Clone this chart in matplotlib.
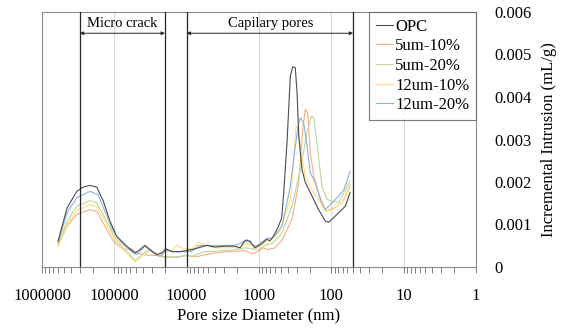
import matplotlib
matplotlib.use("Agg")
import matplotlib.pyplot as plt

plt.rcParams['font.family'] = ['Liberation Serif', 'DejaVu Serif']

labels = ["OPC", "5um-10%", "5um-20%", "12um-10%", "12um-20%"]
colors = ["#4d4d4d", "#f4b183", "#b9d7a0", "#ffe07a", "#8fb0dc"]

opc_d = [600000, 450000, 330000, 270000, 217000, 175000, 142000, 115000, 92700, 67500,
         51800, 44200, 37700, 32100, 25900, 22100, 19300, 16100, 12400, 10000,
         8520, 6900, 5280, 4060, 2950, 2150, 1830, 1560, 1330, 1140,
         918, 783, 705, 634, 541, 486, 455, 410, 369, 342,
         315, 298, 282, 254, 229, 185, 150, 121, 109, 88, 64, 55]
opc_v = [0.00061, 0.00139, 0.00178, 0.00188, 0.00192, 0.00188, 0.00155, 0.00108, 0.00072, 0.00049,
         0.00033, 0.00041, 0.00051, 0.00041, 0.00029, 0.00033, 0.00043, 0.00036, 0.00036, 0.00039,
         0.00041, 0.00045, 0.00051, 0.00047, 0.00049, 0.00049, 0.00045, 0.00062, 0.00061, 0.00045,
         0.00055, 0.00065, 0.00062, 0.00072, 0.00095, 0.00115, 0.00175, 0.00293, 0.00449, 0.00471,
         0.00469, 0.00410, 0.00308, 0.00229, 0.00199, 0.00167, 0.00135, 0.00108, 0.00105, 0.00120, 0.00143, 0.00175]

s510_d = [600000, 450000, 330000, 217000, 175000, 135000, 103000, 75200, 57500, 49100,
          35700, 25900, 19900, 13700, 10000, 8520, 6900, 5580, 4060, 2950,
          2150, 1560, 1260, 1020, 873, 744, 601, 486, 350, 282,
          246, 229, 212, 195, 175, 150, 121, 93, 71, 55]
s510_v = [0.00050, 0.00096, 0.00124, 0.00135, 0.00131, 0.00096, 0.00061, 0.00041, 0.00043, 0.00033,
          0.00028, 0.00027, 0.00025, 0.00023, 0.00027, 0.00025, 0.00025, 0.00029, 0.00033, 0.00036,
          0.00037, 0.00039, 0.00031, 0.00037, 0.00045, 0.00041, 0.00045, 0.00062, 0.00112, 0.00198,
          0.00331, 0.00371, 0.00363, 0.00269, 0.00214, 0.00175, 0.00131, 0.00139, 0.00151, 0.00190]

s520_d = [600000, 450000, 330000, 217000, 175000, 135000, 103000, 79100, 60700, 51800,
          41900, 33900, 25900, 21000, 15300, 10000, 8520, 6900, 5580, 4060,
          2950, 2150, 1560, 1260, 1020, 827, 667, 541, 481, 350,
          268, 217, 189, 175, 158, 135, 115, 98, 79, 55]
s520_v = [0.00053, 0.00108, 0.00143, 0.00156, 0.00151, 0.00116, 0.00076, 0.00049, 0.00029, 0.00015,
          0.00029, 0.00041, 0.00029, 0.00023, 0.00023, 0.00027, 0.00025, 0.00031, 0.00036, 0.00037,
          0.00039, 0.00041, 0.00045, 0.00043, 0.00041, 0.00051, 0.00055, 0.00069, 0.00080, 0.00143,
          0.00229, 0.00316, 0.00355, 0.00351, 0.00292, 0.00190, 0.00159, 0.00155, 0.00151, 0.00202]

s1210_d = [600000, 450000, 330000, 217000, 175000, 135000, 103000, 75200, 60700, 51800,
           41900, 32100, 25900, 19900, 16100, 13700, 11100, 8520, 6900, 5580,
           4060, 2950, 2150, 1830, 1480, 1260, 1080, 827, 705, 601,
           513, 369, 331, 308, 288, 260, 229, 185, 150, 121, 98, 71, 55]
s1210_v = [0.00047, 0.00100, 0.00133, 0.00147, 0.00142, 0.00108, 0.00069, 0.00041, 0.00025, 0.00012,
           0.00025, 0.00039, 0.00031, 0.00036, 0.00039, 0.00051, 0.00043, 0.00043, 0.00057, 0.00050,
           0.00045, 0.00045, 0.00047, 0.00045, 0.00057, 0.00050, 0.00045, 0.00057, 0.00061, 0.00072,
           0.00085, 0.00159, 0.00253, 0.00331, 0.00324, 0.00269, 0.00214, 0.00182, 0.00159, 0.00131, 0.00135, 0.00151, 0.00194]

s1220_d = [600000, 450000, 330000, 217000, 167000, 135000, 103000, 79100, 57500, 49100,
           37700, 28900, 23400, 19300, 13700, 10000, 8520, 6900, 5580, 4060,
           2950, 2150, 1830, 1480, 1260, 1080, 873, 744, 667, 569,
           481, 369, 315, 282, 268, 241, 217, 195, 167, 142, 121, 109, 79, 67, 55]
s1220_v = [0.00057, 0.00128, 0.00163, 0.00178, 0.00170, 0.00131, 0.00084, 0.00057, 0.00036, 0.00029,
           0.00049, 0.00033, 0.00025, 0.00039, 0.00036, 0.00036, 0.00037, 0.00050, 0.00051, 0.00050,
           0.00051, 0.00051, 0.00055, 0.00065, 0.00053, 0.00049, 0.00061, 0.00069, 0.00067, 0.00080,
           0.00096, 0.00190, 0.00284, 0.00339, 0.00351, 0.00339, 0.00284, 0.00222, 0.00198, 0.00159, 0.00135, 0.00143, 0.00167, 0.00182, 0.00225]

series = [(opc_d, opc_v), (s510_d, s510_v), (s520_d, s520_v), (s1210_d, s1210_v), (s1220_d, s1220_v)]

region_lines = [300000, 20000, 10000, 50]
micro_range = (300000, 20000)
capillary_range = (10000, 50)
xticks = [1000000, 100000, 10000, 1000, 100, 10, 1]
yticks = [0, 0.001, 0.002, 0.003, 0.004, 0.005, 0.006]

fig = plt.figure(figsize=(5.64, 3.28), dpi=100)
ax = fig.add_axes([42/564, 1-267/328, (476-42)/564, (267-12)/328])

ax.set_xscale('log')
ax.set_xlim(1000000, 1)
ax.set_ylim(0, 0.006)

for xv in xticks:
    ax.axvline(xv, color='#d9d9d9', lw=0.8, zorder=0)

order = [1, 2, 3, 4, 0]
handles = {}
for i in order:
    d, v = series[i]
    h, = ax.plot(d, v, color=colors[i], lw=0.8, label=labels[i], zorder=3 if i == 0 else 2)
    handles[i] = h

for xv in region_lines:
    ax.axvline(xv, color='#262626', lw=0.9, zorder=4)

arrow_y = 0.0055
text_y = 0.00573
ax.annotate('', xy=(micro_range[1], arrow_y), xytext=(micro_range[0], arrow_y),
            arrowprops=dict(arrowstyle='<|-|>', color='#262626', lw=0.7, mutation_scale=5,
                            shrinkA=0, shrinkB=0))
ax.annotate('', xy=(capillary_range[1], arrow_y), xytext=(capillary_range[0], arrow_y),
            arrowprops=dict(arrowstyle='<|-|>', color='#262626', lw=0.7, mutation_scale=5,
                            shrinkA=0, shrinkB=0))
ax.text(78000, text_y, 'Micro crack', ha='center', va='center', fontsize=10.5)
ax.text(700, text_y, 'Capilary pores', ha='center', va='center', fontsize=10.5)

ax.set_xticks(xticks)
ax.set_xticklabels([str(x) for x in xticks], fontsize=12)
ax.tick_params(axis='x', which='both', direction='out', length=4, width=0.7, color='#808080', pad=11)
ax.tick_params(axis='x', which='minor', labelbottom=False)

ax.yaxis.tick_right()
ax.yaxis.set_label_position('right')
ax.set_yticks(yticks)
ax.set_yticklabels(['0', '0.001', '0.002', '0.003', '0.004', '0.005', '0.006'], fontsize=12)
ax.tick_params(axis='y', length=0, pad=13)

ax.set_xlabel('Pore size Diameter (nm)', fontsize=12, labelpad=3)
ax.set_ylabel('Incremental Intrusion (mL/g)', fontsize=12, labelpad=7)

for s in ax.spines.values():
    s.set_color('#8c8c8c')
    s.set_linewidth(0.8)

leg = ax.legend([handles[i] for i in range(5)], labels, loc='upper right', bbox_to_anchor=(1.0, 1.0),
                fontsize=12, frameon=True, fancybox=False, edgecolor='#595959',
                handlelength=1.0, handletextpad=0.15, labelspacing=0.22, borderpad=0.4,
                borderaxespad=0)
leg.get_frame().set_linewidth(0.8)

fig.savefig('out.png', dpi=100)
